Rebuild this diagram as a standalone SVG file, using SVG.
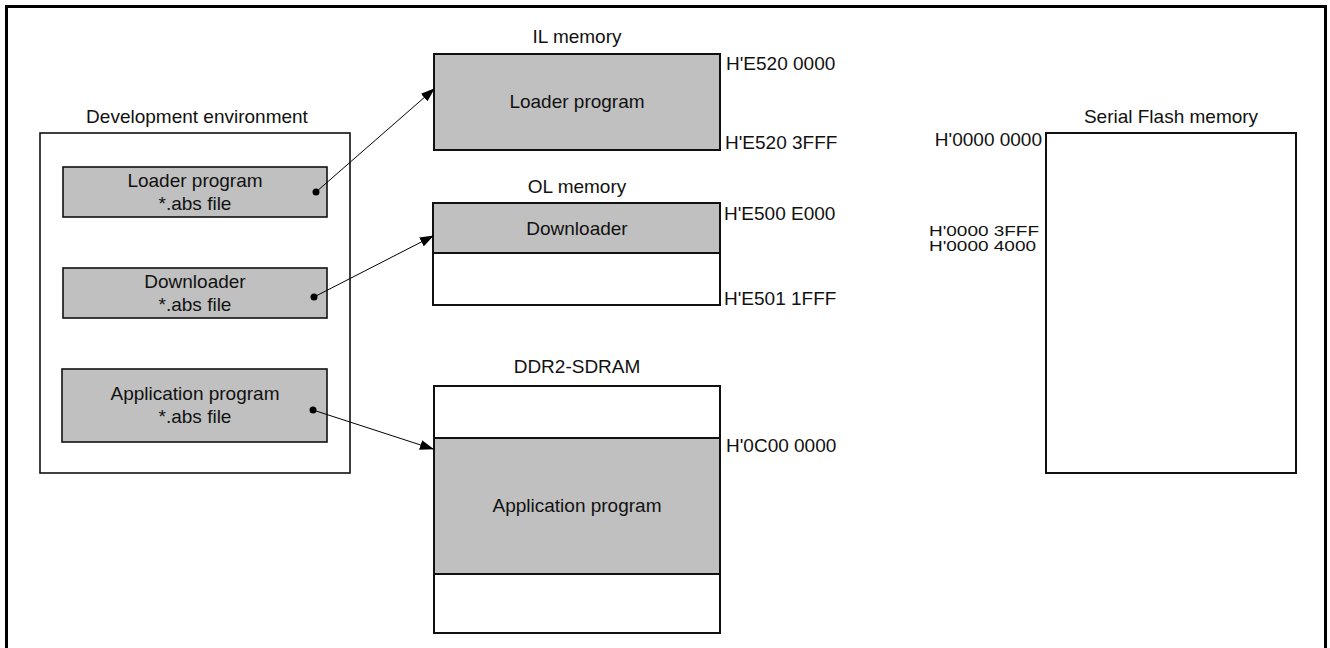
<svg xmlns="http://www.w3.org/2000/svg" width="1330" height="648" viewBox="0 0 1330 648">
<defs>
<marker id="ah" markerWidth="14" markerHeight="10" refX="13" refY="5" orient="auto" markerUnits="userSpaceOnUse">
<path d="M0,0 L14,5 L0,10 Z" fill="#000"/>
</marker>
<style>
text{font-family:"Liberation Sans",Arial,sans-serif;font-size:19px;fill:#111}
.c{text-anchor:middle}
.e{text-anchor:end}
.sm{font-size:15px}
.box{fill:#fff;stroke:#111;stroke-width:1.6}
.mem{fill:#fff;stroke:#111;stroke-width:2}
.g{fill:#c0c0c0}
.ln{stroke:#000;stroke-width:1;fill:none}
</style>
</defs>
<rect width="1330" height="648" fill="#fff"/>
<rect x="6.5" y="6.5" width="1319" height="700" fill="none" stroke="#000" stroke-width="3"/>

<g id="dev-env">
<text class="c" x="197" y="123">Development environment</text>
<rect class="box" x="40" y="133" width="310" height="340"/>
</g>
<g id="dev-loader">
<rect class="box g" x="63" y="167" width="264" height="50"/>
<text class="c" x="195" y="187">Loader program</text>
<text class="c" x="195" y="210">*.abs file</text>
</g>
<g id="dev-downloader">
<rect class="box g" x="63" y="268" width="264" height="50"/>
<text class="c" x="195" y="288">Downloader</text>
<text class="c" x="195" y="311">*.abs file</text>
</g>
<g id="dev-app">
<rect class="box g" x="62" y="369" width="265" height="73"/>
<text class="c" x="195" y="400">Application program</text>
<text class="c" x="195" y="423">*.abs file</text>
</g>

<g id="il-memory">
<text class="c" x="577" y="43">IL memory</text>
<rect class="mem g" x="434" y="54" width="286" height="96"/>
<text class="c" x="577" y="108">Loader program</text>
<text x="726" y="70">H'E520 0000</text>
<text x="725" y="149">H'E520 3FFF</text>
</g>

<g id="ol-memory">
<text class="c" x="577" y="193">OL memory</text>
<rect class="mem" x="433" y="203" width="287" height="102"/>
<rect class="mem g" x="433" y="203" width="287" height="50"/>
<text class="c" x="577" y="235">Downloader</text>
<text x="724" y="220">H'E500 E000</text>
<text x="724" y="305">H'E501 1FFF</text>
</g>

<g id="ddr2-sdram">
<text class="c" x="577" y="373">DDR2-SDRAM</text>
<rect class="mem" x="434" y="386" width="286" height="247"/>
<rect class="mem g" x="434" y="438" width="286" height="136"/>
<text class="c" x="577" y="512">Application program</text>
<text x="726" y="452">H'0C00 0000</text>
</g>

<g id="serial-flash">
<text class="c" x="1171" y="123">Serial Flash memory</text>
<rect class="mem" x="1046" y="133" width="250" height="340"/>
<text class="e" x="1042" y="146">H'0000 0000</text>
<text class="sm" x="929" y="236" textLength="110" lengthAdjust="spacingAndGlyphs">H'0000 3FFF</text>
<text class="sm" x="929" y="251" textLength="107" lengthAdjust="spacingAndGlyphs">H'0000 4000</text>
</g>

<g id="connectors">
<circle cx="316" cy="192" r="3.5"/>
<line class="ln" x1="316" y1="192" x2="434" y2="89" marker-end="url(#ah)"/>
<circle cx="314" cy="297" r="3.5"/>
<line class="ln" x1="314" y1="297" x2="433" y2="236" marker-end="url(#ah)"/>
<circle cx="313" cy="410" r="3.5"/>
<line class="ln" x1="313" y1="410" x2="433" y2="449" marker-end="url(#ah)"/>
</g>
</svg>
